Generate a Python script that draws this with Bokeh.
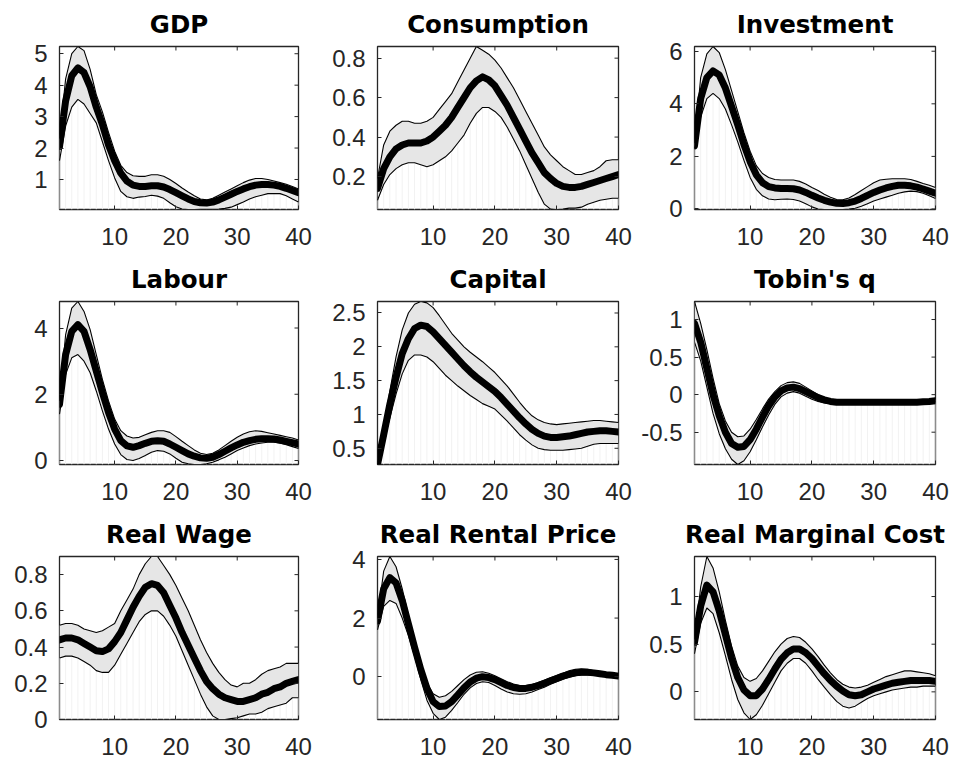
import math
from bokeh.plotting import figure
from bokeh.layouts import gridplot
from bokeh.models import FixedTicker, NumeralTickFormatter, Range1d
from bokeh.embed import file_html
from bokeh.resources import INLINE

horizon = list(range(1, 41))

gdp_med = [2.05,3.5,4.3,4.55,4.4,3.95,3.3,2.75,2.1,1.6,1.2,0.95,0.82,0.78,0.78,0.8,0.8,0.76,0.68,0.58,0.48,0.38,0.3,0.26,0.25,0.28,0.35,0.44,0.53,0.62,0.7,0.77,0.82,0.84,0.84,0.82,0.78,0.72,0.65,0.58]
gdp_hi = [2.3,4.2,5.0,5.23,5.1,4.5,3.7,3.15,2.5,1.9,1.45,1.22,1.12,1.1,1.1,1.15,1.15,1.1,1.0,0.87,0.73,0.6,0.48,0.38,0.35,0.4,0.5,0.6,0.7,0.8,0.9,0.98,1.03,1.03,1.0,0.95,0.9,0.85,0.78,0.7]
gdp_lo = [1.6,2.7,3.3,3.55,3.4,3.1,2.8,2.2,1.6,1.05,0.62,0.45,0.4,0.44,0.46,0.5,0.47,0.4,0.26,0.13,0.06,0.045,0.045,0.05,0.05,0.05,0.06,0.08,0.12,0.2,0.28,0.38,0.45,0.5,0.55,0.55,0.55,0.48,0.38,0.28]

cons_med = [0.14,0.24,0.3,0.34,0.36,0.37,0.37,0.37,0.38,0.4,0.43,0.46,0.5,0.55,0.6,0.65,0.685,0.705,0.69,0.66,0.61,0.56,0.5,0.44,0.38,0.32,0.27,0.22,0.19,0.165,0.15,0.145,0.145,0.15,0.16,0.17,0.18,0.19,0.2,0.21]
cons_hi = [0.19,0.36,0.43,0.46,0.48,0.48,0.47,0.47,0.48,0.5,0.54,0.58,0.62,0.68,0.74,0.8,0.859,0.84,0.82,0.79,0.75,0.7,0.65,0.59,0.53,0.47,0.41,0.35,0.31,0.28,0.25,0.23,0.21,0.21,0.22,0.23,0.25,0.28,0.285,0.285]
cons_lo = [0.08,0.16,0.21,0.24,0.26,0.27,0.27,0.26,0.25,0.26,0.28,0.3,0.33,0.37,0.41,0.47,0.52,0.55,0.55,0.53,0.5,0.45,0.39,0.33,0.26,0.19,0.12,0.06,0.035,0.033,0.035,0.04,0.04,0.045,0.06,0.07,0.08,0.085,0.09,0.09]

inv_med = [2.4,4.2,5.0,5.25,5.1,4.6,3.9,3.2,2.45,1.8,1.3,1.0,0.85,0.8,0.78,0.78,0.77,0.72,0.63,0.52,0.42,0.33,0.26,0.22,0.21,0.24,0.3,0.4,0.52,0.63,0.72,0.8,0.86,0.9,0.9,0.88,0.83,0.76,0.68,0.6]
inv_hi = [2.5,5.0,5.9,6.18,5.95,5.3,4.5,3.7,2.9,2.2,1.65,1.35,1.2,1.12,1.1,1.1,1.1,1.05,0.95,0.82,0.7,0.56,0.45,0.36,0.35,0.42,0.55,0.7,0.85,1.0,1.1,1.13,1.15,1.15,1.15,1.12,1.05,0.97,0.9,0.82]
inv_lo = [2.3,3.5,4.2,4.4,4.2,3.8,3.2,2.55,1.85,1.2,0.75,0.5,0.38,0.35,0.37,0.38,0.36,0.3,0.2,0.08,0.0,-0.02,-0.02,-0.02,-0.02,0.0,0.03,0.1,0.2,0.3,0.38,0.45,0.52,0.6,0.65,0.68,0.66,0.6,0.5,0.4]

lab_med = [1.7,3.2,3.9,4.1,3.9,3.35,2.7,2.05,1.45,0.95,0.6,0.44,0.4,0.45,0.52,0.58,0.6,0.58,0.5,0.4,0.3,0.2,0.13,0.08,0.07,0.1,0.18,0.28,0.38,0.47,0.55,0.6,0.64,0.66,0.66,0.65,0.62,0.58,0.54,0.5]
lab_hi = [1.8,3.8,4.6,4.8,4.5,3.95,3.2,2.45,1.8,1.25,0.9,0.74,0.68,0.7,0.78,0.85,0.9,0.9,0.85,0.72,0.58,0.45,0.32,0.22,0.18,0.22,0.32,0.45,0.58,0.7,0.8,0.87,0.9,0.88,0.84,0.8,0.76,0.72,0.68,0.62]
lab_lo = [1.4,2.6,3.1,3.2,3.0,2.65,2.1,1.5,0.95,0.5,0.18,0.03,0.0,0.06,0.15,0.25,0.3,0.28,0.2,0.07,-0.05,-0.1,-0.12,-0.12,-0.1,-0.05,0.02,0.1,0.2,0.3,0.38,0.45,0.5,0.53,0.55,0.55,0.52,0.48,0.42,0.36]

cap_med = [0.26,0.7,1.15,1.55,1.9,2.12,2.27,2.32,2.3,2.22,2.12,2.02,1.92,1.82,1.72,1.63,1.55,1.48,1.41,1.34,1.25,1.15,1.05,0.95,0.86,0.78,0.72,0.68,0.66,0.66,0.67,0.68,0.7,0.72,0.74,0.75,0.76,0.76,0.75,0.74]
cap_hi = [0.26,0.8,1.35,1.85,2.25,2.5,2.63,2.67,2.65,2.58,2.46,2.33,2.2,2.1,2.0,1.92,1.85,1.78,1.7,1.62,1.52,1.42,1.3,1.18,1.07,0.98,0.92,0.88,0.86,0.85,0.86,0.87,0.88,0.89,0.9,0.91,0.91,0.9,0.89,0.88]
cap_lo = [0.26,0.6,0.95,1.3,1.6,1.8,1.88,1.88,1.85,1.78,1.68,1.58,1.5,1.42,1.35,1.28,1.22,1.16,1.12,1.08,0.99,0.9,0.8,0.7,0.62,0.55,0.5,0.48,0.47,0.47,0.47,0.48,0.49,0.5,0.53,0.56,0.57,0.57,0.57,0.57]

tq_med = [0.95,0.7,0.35,0.0,-0.28,-0.5,-0.65,-0.7,-0.69,-0.6,-0.46,-0.3,-0.15,-0.03,0.05,0.09,0.1,0.08,0.04,0.0,-0.04,-0.07,-0.09,-0.1,-0.1,-0.1,-0.1,-0.1,-0.1,-0.1,-0.1,-0.1,-0.1,-0.1,-0.1,-0.1,-0.1,-0.095,-0.09,-0.08]
tq_hi = [1.24,0.95,0.6,0.22,-0.12,-0.35,-0.5,-0.56,-0.55,-0.46,-0.33,-0.19,-0.06,0.04,0.12,0.16,0.17,0.15,0.1,0.05,0.0,-0.04,-0.07,-0.08,-0.08,-0.08,-0.08,-0.08,-0.08,-0.08,-0.08,-0.08,-0.08,-0.08,-0.08,-0.08,-0.08,-0.075,-0.07,-0.06]
tq_lo = [0.7,0.45,0.1,-0.25,-0.52,-0.72,-0.86,-0.93,-0.88,-0.76,-0.6,-0.43,-0.27,-0.13,-0.03,0.02,0.04,0.02,-0.02,-0.06,-0.09,-0.11,-0.12,-0.12,-0.12,-0.12,-0.12,-0.12,-0.12,-0.12,-0.12,-0.12,-0.12,-0.12,-0.12,-0.12,-0.12,-0.115,-0.11,-0.1]

wage_med = [0.44,0.45,0.45,0.44,0.42,0.4,0.38,0.375,0.39,0.43,0.48,0.55,0.62,0.68,0.73,0.75,0.74,0.7,0.63,0.56,0.48,0.41,0.34,0.27,0.21,0.17,0.14,0.12,0.11,0.1,0.1,0.11,0.12,0.14,0.15,0.17,0.18,0.2,0.21,0.22]
wage_hi = [0.52,0.53,0.53,0.52,0.5,0.49,0.48,0.49,0.51,0.53,0.6,0.66,0.72,0.8,0.86,0.9,0.9,0.85,0.8,0.74,0.67,0.6,0.52,0.44,0.37,0.31,0.26,0.22,0.19,0.18,0.2,0.2,0.22,0.25,0.27,0.28,0.29,0.31,0.31,0.31]
wage_lo = [0.34,0.35,0.35,0.34,0.32,0.3,0.27,0.26,0.26,0.3,0.36,0.42,0.48,0.54,0.58,0.6,0.6,0.57,0.52,0.46,0.38,0.3,0.22,0.14,0.07,0.02,0.0,0.0,0.005,0.01,0.02,0.03,0.03,0.04,0.06,0.07,0.08,0.09,0.12,0.12]

rent_med = [1.9,3.0,3.38,3.2,2.6,1.8,1.0,0.25,-0.4,-0.85,-1.02,-1.0,-0.85,-0.62,-0.38,-0.18,-0.05,0.0,-0.03,-0.1,-0.2,-0.3,-0.37,-0.4,-0.4,-0.36,-0.3,-0.22,-0.14,-0.06,0.02,0.08,0.13,0.15,0.15,0.13,0.1,0.07,0.05,0.02]
rent_hi = [2.0,3.6,4.1,3.75,3.0,2.1,1.25,0.45,-0.2,-0.58,-0.7,-0.65,-0.5,-0.3,-0.1,0.06,0.15,0.17,0.12,0.03,-0.07,-0.17,-0.25,-0.3,-0.3,-0.27,-0.2,-0.12,-0.04,0.04,0.12,0.2,0.25,0.27,0.25,0.2,0.15,0.1,0.06,0.03]
rent_lo = [1.6,2.4,2.6,2.5,2.0,1.4,0.7,-0.1,-0.8,-1.25,-1.46,-1.38,-1.15,-0.88,-0.6,-0.38,-0.23,-0.17,-0.2,-0.3,-0.42,-0.52,-0.58,-0.6,-0.58,-0.52,-0.44,-0.36,-0.26,-0.17,-0.09,-0.02,0.03,0.06,0.07,0.06,0.03,0.0,-0.02,-0.05]

rmc_med = [0.52,0.9,1.12,1.05,0.85,0.6,0.35,0.15,0.02,-0.04,-0.04,0.03,0.13,0.24,0.34,0.41,0.45,0.45,0.41,0.35,0.27,0.19,0.12,0.06,0.01,-0.03,-0.04,-0.03,0.0,0.03,0.05,0.07,0.09,0.1,0.11,0.12,0.12,0.12,0.12,0.11]
rmc_hi = [0.55,1.1,1.42,1.3,1.05,0.75,0.48,0.27,0.15,0.11,0.14,0.22,0.32,0.42,0.5,0.56,0.58,0.57,0.52,0.45,0.37,0.28,0.2,0.13,0.08,0.05,0.04,0.05,0.07,0.1,0.13,0.16,0.18,0.2,0.22,0.22,0.21,0.2,0.19,0.17]
rmc_lo = [0.4,0.72,0.88,0.82,0.62,0.38,0.13,-0.08,-0.22,-0.29,-0.24,-0.14,-0.02,0.1,0.22,0.3,0.35,0.35,0.3,0.22,0.13,0.05,-0.03,-0.1,-0.15,-0.17,-0.15,-0.11,-0.07,-0.04,-0.02,0.0,0.02,0.03,0.04,0.05,0.05,0.06,0.06,0.06]

titles = ["GDP", "Consumption", "Investment", "Labour", "Capital", "Tobin's q",
          "Real Wage", "Real Rental Price", "Real Marginal Cost"]
medians = [gdp_med, cons_med, inv_med, lab_med, cap_med, tq_med, wage_med, rent_med, rmc_med]
uppers = [gdp_hi, cons_hi, inv_hi, lab_hi, cap_hi, tq_hi, wage_hi, rent_hi, rmc_hi]
lowers = [gdp_lo, cons_lo, inv_lo, lab_lo, cap_lo, tq_lo, wage_lo, rent_lo, rmc_lo]
x_ticks = [10, 20, 30, 40]
y_ticks = [[1, 2, 3, 4, 5], [0.2, 0.4, 0.6, 0.8], [0, 2, 4, 6],
           [0, 2, 4], [0.5, 1, 1.5, 2, 2.5], [-0.5, 0, 0.5, 1],
           [0, 0.2, 0.4, 0.6, 0.8], [0, 2, 4], [0, 0.5, 1]]

AX = "#262626"
col_left = [59, 51, 57]
col_frame = [239, 241, 241]
col_right = [28, 19, 18]
row_top = [46, 46, 46]
row_frame = [163, 163, 163]
row_bottom = [46, 46, 46]

figs = []
for i in range(9):
    r, c = divmod(i, 3)
    med, hi, lo = medians[i], uppers[i], lowers[i]
    ymin, ymax = min(lo + med), max(hi + med)
    p = figure(frame_width=col_frame[c], frame_height=row_frame[r],
               min_border_left=col_left[c], min_border_right=col_right[c],
               min_border_top=row_top[r], min_border_bottom=row_bottom[r],
               x_range=Range1d(1, 40), y_range=Range1d(ymin, ymax),
               output_backend="svg", toolbar_location=None, tools="")
    p.xgrid.visible = False
    p.ygrid.visible = False
    p.background_fill_color = "white"
    p.border_fill_color = "white"
    p.outline_line_color = AX
    p.outline_line_width = 1.3

    p.title.text = titles[i]
    p.title.align = "center"
    p.title.text_font = "DejaVu Sans"
    p.title.text_font_style = "bold"
    p.title.text_font_size = "24.5px"
    p.title.text_color = "black"
    p.title.standoff = 15

    # faint stripes under the band
    p.segment(x0=horizon, y0=[ymin] * 40, x1=horizon, y1=lo,
              line_color="#f2f2f2", line_width=1)
    p.varea(x=horizon, y1=lo, y2=hi, fill_color="#e6e6e6")
    p.line(horizon, hi, line_color="black", line_width=1.1)
    p.line(horizon, lo, line_color="black", line_width=1.1)
    p.line(horizon, med, line_color="black", line_width=7,
           line_join="round", line_cap="round")

    # box ticks on the top and right edges (pointing inward)
    p.ray(x=x_ticks, y=[ymax] * len(x_ticks), length=4, length_units="screen",
          angle=-math.pi / 2, line_color=AX, line_width=1)
    p.ray(x=[40] * len(y_ticks[i]), y=y_ticks[i], length=4, length_units="screen",
          angle=math.pi, line_color=AX, line_width=1)

    for ax in (p.xaxis[0], p.yaxis[0]):
        ax.axis_line_color = None
        ax.major_tick_in = 4
        ax.major_tick_out = 0
        ax.minor_tick_line_color = None
        ax.major_tick_line_color = AX
        ax.major_label_text_font = "Liberation Sans"
        ax.major_label_text_font_size = "24px"
        ax.major_label_text_color = AX
        ax.formatter = NumeralTickFormatter(format="0.[0]")
    p.xaxis[0].ticker = FixedTicker(ticks=x_ticks)
    p.yaxis[0].ticker = FixedTicker(ticks=y_ticks[i])
    p.xaxis[0].major_label_standoff = 18
    p.yaxis[0].major_label_standoff = 12
    figs.append(p)

grid = gridplot([figs[0:3], figs[3:6], figs[6:9]], toolbar_location=None)
open("out.html", "w").write(file_html(grid, INLINE))
